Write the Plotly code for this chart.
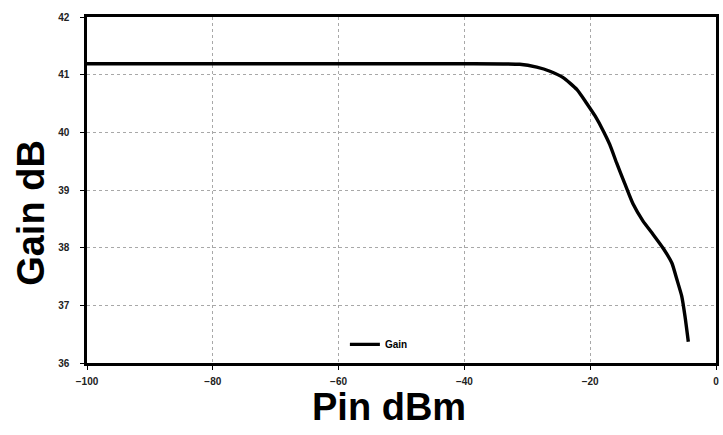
import plotly.graph_objects as go

pin_dbm = [-100, -80, -60, -40, -31.2, -28.5, -26.4, -24.3, -22.1, -20.6, -19.2, -17.9, -16.9,
           -15.8, -14.5, -13.2, -11.6, -10.0, -8.4, -7.0, -6.25, -5.45, -4.93, -4.4]
gain_db = [41.19, 41.19, 41.19, 41.19, 41.18, 41.13, 41.06, 40.95, 40.74, 40.51, 40.28, 40.02, 39.79,
           39.47, 39.11, 38.76, 38.46, 38.23, 37.99, 37.73, 37.46, 37.16, 36.81, 36.37]

x_ticks = [-100, -80, -60, -40, -20, 0]
y_ticks = [36, 37, 38, 39, 40, 41, 42]

FONT = "Liberation Sans, Arial"

fig = go.Figure()
fig.add_trace(go.Scatter(
    x=pin_dbm, y=gain_db, mode="lines", name="Gain",
    line=dict(color="black", width=3.4, shape="spline", smoothing=0.5),
))

axis_common = dict(
    showline=True, linecolor="black", linewidth=2.5, mirror=True,
    showgrid=True, gridcolor="#a8a8a8", griddash="dot", gridwidth=1,
    zeroline=False, ticks="outside", ticklen=4, tickcolor="black",
    automargin=False,
    tickfont=dict(family=FONT, size=10, color="#222222", weight="bold"),
)

fig.update_layout(
    width=723, height=435,
    paper_bgcolor="white", plot_bgcolor="white",
    margin=dict(l=87, r=7, t=17, b=72),
    xaxis=dict(range=[-100, 0], tickvals=x_ticks, ticklabelstandoff=3, **axis_common),
    yaxis=dict(range=[36, 42], tickvals=y_ticks, ticklabelstandoff=9, **axis_common),
    showlegend=True,
    legend=dict(x=0.41, y=0.012, xanchor="left", yanchor="bottom", bgcolor="rgba(0,0,0,0)",
                font=dict(family=FONT, size=10, color="black", weight="bold"),
                itemwidth=30),
    annotations=[
        dict(text="<b>Pin dBm</b>", xref="paper", yref="paper", x=0.48, y=-0.06,
             xanchor="center", yanchor="top", showarrow=False,
             font=dict(family=FONT, size=38, color="black")),
        dict(text="<b>Gain dB</b>", xref="paper", yref="paper", x=-0.089, y=0.434,
             xanchor="center", yanchor="middle", showarrow=False, textangle=-90,
             font=dict(family=FONT, size=38, color="black")),
    ],
)

fig.write_html("out.html",
               config={"displayModeBar": False},
               post_script="document.body.style.margin='0';document.body.style.overflow='hidden';")
